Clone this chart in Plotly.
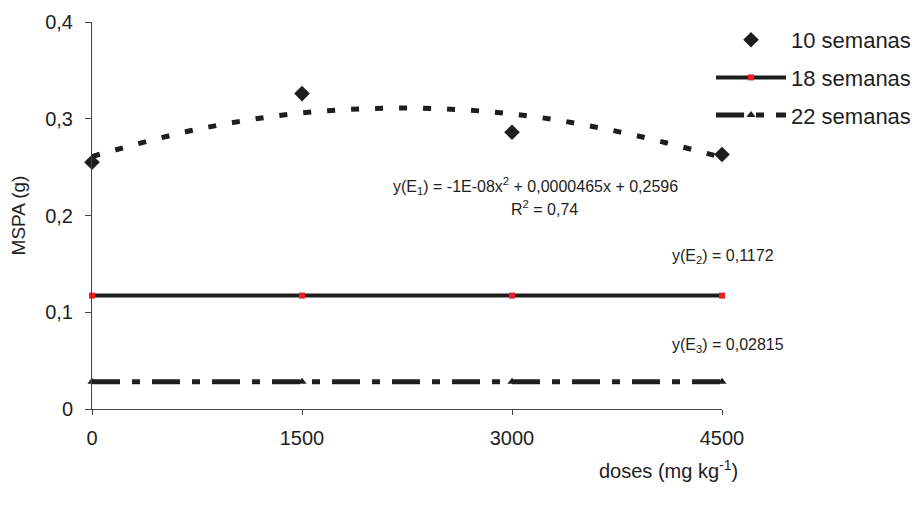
import plotly.graph_objects as go

doses = [0, 1500, 3000, 4500]
semanas10 = [0.255, 0.326, 0.286, 0.263]
trend_x = [0, 750, 1500, 2250, 3000, 3750, 4500]
trend_y = [0.261, 0.289, 0.306, 0.311, 0.305, 0.287, 0.260]
semanas18 = [0.1172, 0.1172, 0.1172, 0.1172]
semanas22 = [0.02815, 0.02815, 0.02815, 0.02815]
x_ticks = [0, 1500, 3000, 4500]
x_ticklabels = ["0", "1500", "3000", "4500"]
y_ticks = [0, 0.1, 0.2, 0.3, 0.4]
y_ticklabels = ["0", "0,1", "0,2", "0,3", "0,4"]

FONT = "Liberation Sans, Arial, sans-serif"
INK = "#1e1e1e"

fig = go.Figure()

# trendline for 10 semanas (no legend entry)
fig.add_trace(go.Scatter(
    x=trend_x, y=trend_y, mode="lines", line=dict(color=INK, width=5, dash="8px,16px", shape="spline"),
    showlegend=False, hoverinfo="skip", cliponaxis=False))

fig.add_trace(go.Scatter(
    x=doses, y=semanas10, mode="markers", name="10 semanas", legendgroup="a",
    marker=dict(symbol="diamond", size=12, color=INK), cliponaxis=False))

fig.add_trace(go.Scatter(
    x=doses, y=semanas18, mode="lines+markers", name="18 semanas", legendgroup="b",
    line=dict(color=INK, width=4),
    marker=dict(symbol="square", size=6, color="#e8202a"), cliponaxis=False))

fig.add_trace(go.Scatter(
    x=doses, y=semanas22, mode="lines+markers", name="22 semanas", legendgroup="c",
    line=dict(color=INK, width=5, dash="28px,12px,8px,12px"),
    marker=dict(symbol="triangle-up", size=8, color=INK), cliponaxis=False))

ann_font = dict(family=FONT, size=16, color=INK)
fig.add_annotation(x=3170, y=0.231, xref="x", yref="y", showarrow=False,
                   text="y(E<sub>1</sub>) = -1E-08x<sup>2</sup> + 0,0000465x + 0,2596", font=ann_font)
fig.add_annotation(x=3230, y=0.208, xref="x", yref="y", showarrow=False,
                   text="R<sup>2</sup> = 0,74", font=ann_font)
fig.add_annotation(x=4125, y=0.158, xref="x", yref="y", showarrow=False, xanchor="left",
                   text="y(E<sub>2</sub>) = 0,1172", font=ann_font)
fig.add_annotation(x=4125, y=0.066, xref="x", yref="y", showarrow=False, xanchor="left",
                   text="y(E<sub>3</sub>) = 0,02815", font=ann_font)
fig.add_annotation(x=(668 - 92) / 630 * 4500, y=-(469 - 409) / 387, xref="x", yref="paper",
                   showarrow=False, yanchor="middle",
                   text="doses (mg kg<sup>-1</sup>)", font=dict(family=FONT, size=20, color=INK))

fig.update_layout(
    width=912, height=513,
    margin=dict(l=92, r=190, t=22, b=104, autoexpand=False),
    paper_bgcolor="white", plot_bgcolor="white",
    font=dict(family=FONT, size=20, color=INK),
    separators=",.",
    showlegend=True,
    legend=dict(x=(711 - 92) / 630, y=1.0 + 3 / 387, xanchor="left", yanchor="top", itemwidth=70,
                font=dict(family=FONT, size=22, color=INK), tracegroupgap=6,
                bgcolor="rgba(0,0,0,0)"),
    xaxis=dict(range=[0, 4500], tickvals=x_ticks, ticktext=x_ticklabels,
               showgrid=False, zeroline=False, showline=True, linecolor="#444", linewidth=1,
               ticks="outside", ticklen=5, tickcolor="#444", tickfont=dict(size=20),
               ticklabelstandoff=6),
    yaxis=dict(range=[0, 0.4], tickvals=y_ticks, ticktext=y_ticklabels,
               showgrid=False, zeroline=False, showline=True, linecolor="#444", linewidth=1,
               ticks="outside", ticklen=6, tickcolor="#444", tickfont=dict(size=20),
               ticklabelstandoff=8,
               title=dict(text="MSPA (g)", font=dict(size=19), standoff=14)),
)

fig.write_html("out.html")
